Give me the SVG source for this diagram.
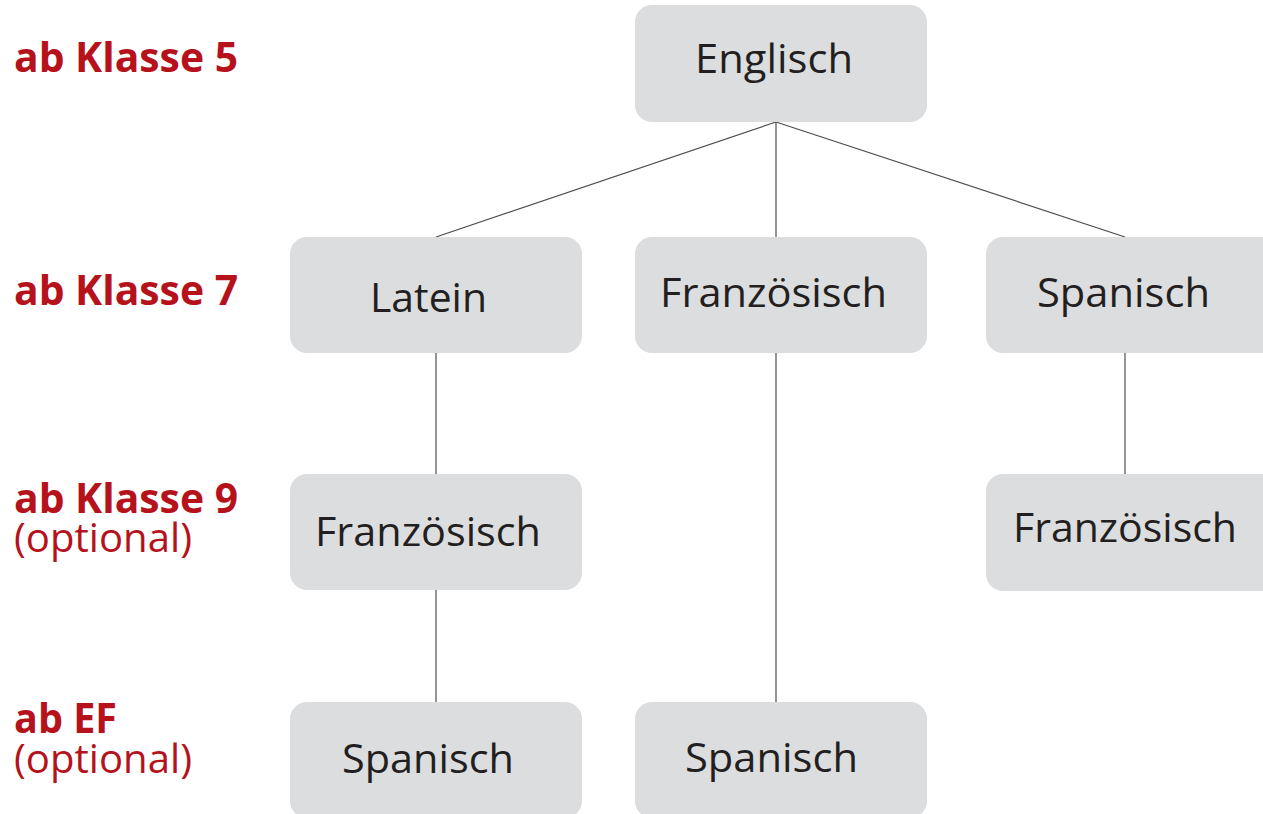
<svg xmlns="http://www.w3.org/2000/svg" width="1263" height="814" viewBox="0 0 1263 814">
<style>
.box{fill:#dcdddf;}
.t{font-family:"Open Sans","Noto Sans",sans-serif;font-size:41px;fill:#231f20;}
.lbl{font-family:"Open Sans","Noto Sans",sans-serif;font-size:41px;font-weight:bold;fill:#b5121b;}
.opt{font-family:"Open Sans","Noto Sans",sans-serif;font-size:40px;fill:#b5121b;}
.c{stroke:#4d4d4d;stroke-width:1.2;fill:none;}
</style>
<rect width="1263" height="814" fill="#ffffff"/>
<g id="connectors">
<line class="c" x1="776" y1="122" x2="436" y2="237"/>
<line class="c" x1="776" y1="122" x2="776" y2="237"/>
<line class="c" x1="776" y1="122" x2="1125" y2="237"/>
<line class="c" x1="436" y1="353" x2="436" y2="474"/>
<line class="c" x1="436" y1="590" x2="436" y2="702"/>
<line class="c" x1="776" y1="353" x2="776" y2="702"/>
<line class="c" x1="1125" y1="353" x2="1125" y2="474"/>
</g>
<g id="labels">
<text class="lbl" x="14" y="72" textLength="224" lengthAdjust="spacingAndGlyphs">ab Klasse 5</text>
<text class="lbl" x="14" y="305" textLength="224" lengthAdjust="spacingAndGlyphs">ab Klasse 7</text>
<text class="lbl" x="14" y="513" textLength="224" lengthAdjust="spacingAndGlyphs">ab Klasse 9</text>
<text class="opt" x="14" y="552" textLength="178" lengthAdjust="spacingAndGlyphs">(optional)</text>
<text class="lbl" x="14" y="733" textLength="103" lengthAdjust="spacingAndGlyphs">ab EF</text>
<text class="opt" x="14" y="773" textLength="178" lengthAdjust="spacingAndGlyphs">(optional)</text>
</g>
<g id="n-englisch">
<rect class="box" x="635" y="5" width="292" height="117" rx="17"/>
<text class="t" x="695" y="73" textLength="158" lengthAdjust="spacingAndGlyphs">Englisch</text>
</g>
<g id="n-latein">
<rect class="box" x="290" y="237" width="292" height="116" rx="17"/>
<text class="t" x="370" y="312" textLength="117" lengthAdjust="spacingAndGlyphs">Latein</text>
</g>
<g id="n-franz7">
<rect class="box" x="635" y="237" width="292" height="116" rx="17"/>
<text class="t" x="660" y="307" textLength="227" lengthAdjust="spacingAndGlyphs">Französisch</text>
</g>
<g id="n-span7">
<rect class="box" x="986" y="237" width="300" height="116" rx="17"/>
<text class="t" x="1037" y="307" textLength="173" lengthAdjust="spacingAndGlyphs">Spanisch</text>
</g>
<g id="n-franz9-left">
<rect class="box" x="290" y="474" width="292" height="116" rx="17"/>
<text class="t" x="315" y="546" textLength="226" lengthAdjust="spacingAndGlyphs">Französisch</text>
</g>
<g id="n-franz9-right">
<rect class="box" x="986" y="474" width="300" height="117" rx="17"/>
<text class="t" x="1013" y="542" textLength="224" lengthAdjust="spacingAndGlyphs">Französisch</text>
</g>
<g id="n-span-ef-left">
<rect class="box" x="290" y="702" width="292" height="116" rx="17"/>
<text class="t" x="342" y="773" textLength="172" lengthAdjust="spacingAndGlyphs">Spanisch</text>
</g>
<g id="n-span-ef-mid">
<rect class="box" x="635" y="702" width="292" height="116" rx="17"/>
<text class="t" x="685" y="772" textLength="173" lengthAdjust="spacingAndGlyphs">Spanisch</text>
</g>
</svg>
